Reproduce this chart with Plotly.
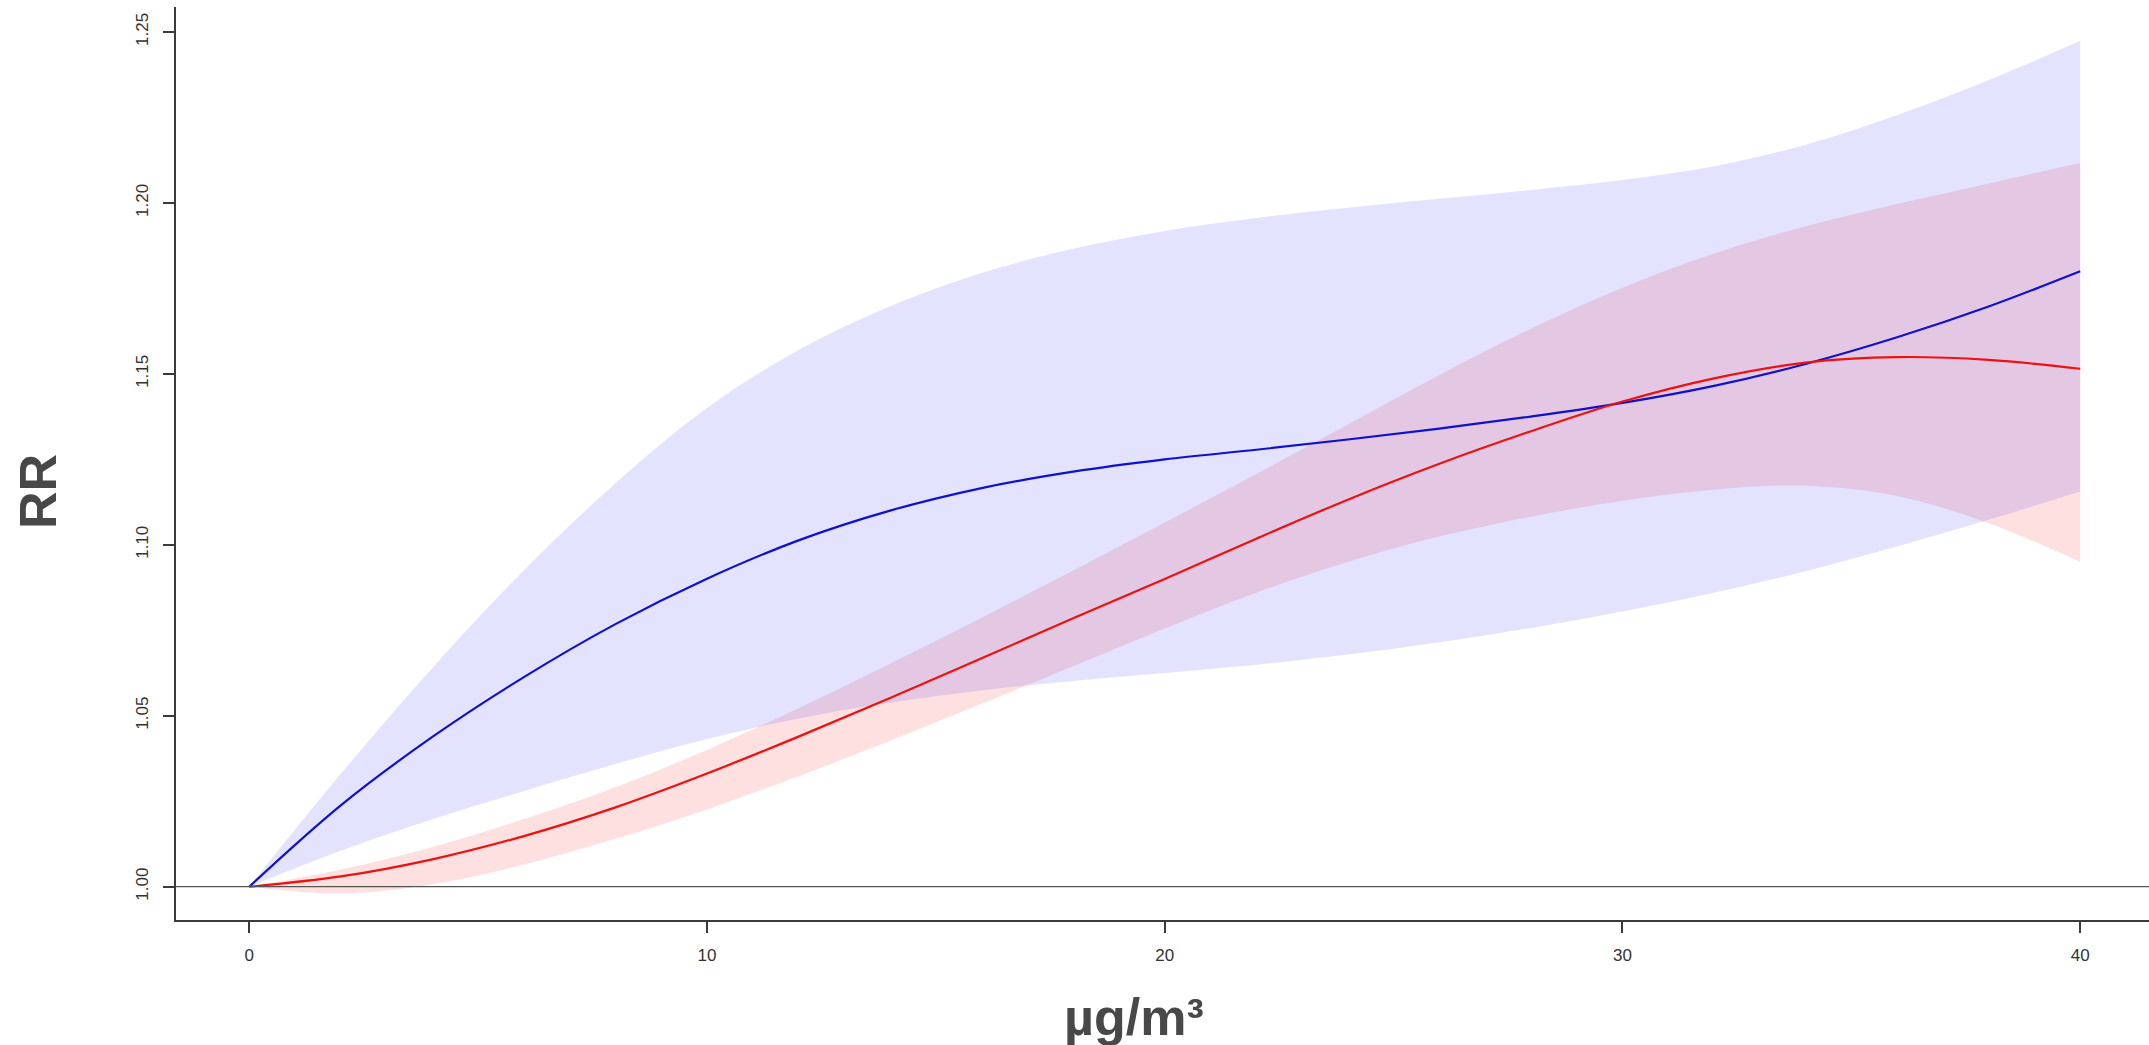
import plotly.graph_objects as go

# exposure (µg/m3)
conc = [0, 2, 4, 6, 8, 10, 12, 14, 16, 18, 20, 22, 24, 26, 28, 30, 32, 34, 36, 38, 40]

# blue series: RR and 95% CI
blue_rr = [1.000, 1.0238, 1.0438, 1.0613, 1.0768, 1.0901, 1.1013, 1.1100, 1.1166, 1.1214, 1.1250,
           1.1278, 1.1308, 1.1340, 1.1375, 1.1415, 1.1465, 1.1529, 1.1607, 1.1697, 1.1800]
blue_hi = [1.000, 1.0330, 1.0640, 1.0925, 1.1180, 1.1400, 1.1570, 1.1698, 1.1795, 1.1866, 1.1918,
           1.1956, 1.1986, 1.2012, 1.2038, 1.2067, 1.2107, 1.2170, 1.2257, 1.2359, 1.2474]
blue_lo = [1.000, 1.0105, 1.0197, 1.0280, 1.0359, 1.0432, 1.0492, 1.0538, 1.0574, 1.0602, 1.0625,
           1.0649, 1.0679, 1.0715, 1.0757, 1.0805, 1.0860, 1.0923, 1.0995, 1.1073, 1.1156]

# red series: RR and 95% CI
red_rr = [1.000, 1.0030, 1.0080, 1.0148, 1.0232, 1.0331, 1.0439, 1.0552, 1.0668, 1.0785, 1.0900,
          1.1018, 1.1132, 1.1237, 1.1332, 1.1419, 1.1487, 1.1533, 1.1549, 1.1541, 1.1515]
red_hi = [1.000, 1.0050, 1.0116, 1.0198, 1.0291, 1.0400, 1.0522, 1.0652, 1.0787, 1.0925, 1.1065,
          1.1207, 1.1352, 1.1497, 1.1632, 1.1752, 1.1852, 1.1932, 1.1997, 1.2057, 1.2117]
red_lo = [1.000, 0.9980, 1.0007, 1.0065, 1.0140, 1.0226, 1.0323, 1.0427, 1.0535, 1.0645, 1.0755,
          1.0860, 1.0950, 1.1024, 1.1082, 1.1129, 1.1161, 1.1173, 1.1143, 1.1063, 1.0950]

x_ticks = [0, 10, 20, 30, 40]
y_ticks = [1.00, 1.05, 1.10, 1.15, 1.20, 1.25]

fig = go.Figure()

# red CI band
fig.add_trace(go.Scatter(x=conc, y=red_lo, mode="lines", line=dict(width=0, shape="spline"),
                         hoverinfo="skip", showlegend=False))
fig.add_trace(go.Scatter(x=conc, y=red_hi, mode="lines", line=dict(width=0, shape="spline"),
                         fill="tonexty", fillcolor="rgba(255,0,0,0.12)", hoverinfo="skip", showlegend=False))
# blue CI band
fig.add_trace(go.Scatter(x=conc, y=blue_lo, mode="lines", line=dict(width=0, shape="spline"),
                         hoverinfo="skip", showlegend=False))
fig.add_trace(go.Scatter(x=conc, y=blue_hi, mode="lines", line=dict(width=0, shape="spline"),
                         fill="tonexty", fillcolor="rgba(0,0,255,0.11)", hoverinfo="skip", showlegend=False))
# lines
fig.add_trace(go.Scatter(x=conc, y=blue_rr, mode="lines", line=dict(color="#1010d0", width=2.2, shape="spline"),
                         showlegend=False))
fig.add_trace(go.Scatter(x=conc, y=red_rr, mode="lines", line=dict(color="#f01010", width=2.2, shape="spline"),
                         showlegend=False))

# reference line RR = 1
fig.add_shape(type="line", xref="paper", x0=0, x1=1, yref="y", y0=1.0, y1=1.0,
              line=dict(color="#555555", width=1.3), layer="above")

axis_col = "#3a3a3a"
tick_font = dict(family="Liberation Sans, Arial, sans-serif", size=17, color="#333333")

fig.update_xaxes(range=[-1.6, 41.503], showgrid=False, zeroline=False, showline=True,
                 linecolor=axis_col, linewidth=1.6, ticks="outside", ticklen=11, tickwidth=1.5,
                 tickcolor=axis_col, tickvals=x_ticks, ticktext=[str(v) for v in x_ticks],
                 tickfont=tick_font, ticklabelstandoff=8)
fig.update_yaxes(range=[0.99026, 1.2573], showgrid=False, zeroline=False, showline=True,
                 linecolor=axis_col, linewidth=1.6, ticks="outside", ticklen=11, tickwidth=1.5,
                 tickcolor=axis_col, tickvals=y_ticks, ticktext=["%.2f" % v for v in y_ticks],
                 tickangle=-90, tickfont=tick_font, ticklabelstandoff=8)

title_font = dict(family="Liberation Sans, Arial, sans-serif", size=52, color="#484848")
fig.add_annotation(text="<b>RR</b>", xref="paper", yref="paper", x=-176 / 1973 + 38 / 1973, y=(920 - 492) / 913,
                   showarrow=False, textangle=-90, font=title_font, xanchor="center", yanchor="middle")
fig.add_annotation(text="<b>µg/m³</b>", xref="paper", yref="paper", x=(1134 - 176) / 1973, y=-(1017 - 920) / 913,
                   showarrow=False, font=title_font, xanchor="center", yanchor="middle")

fig.update_layout(width=2149, height=1045, margin=dict(l=176, r=0, t=7, b=125),
                  plot_bgcolor="white", paper_bgcolor="white", showlegend=False)

fig.write_html("out.html")
